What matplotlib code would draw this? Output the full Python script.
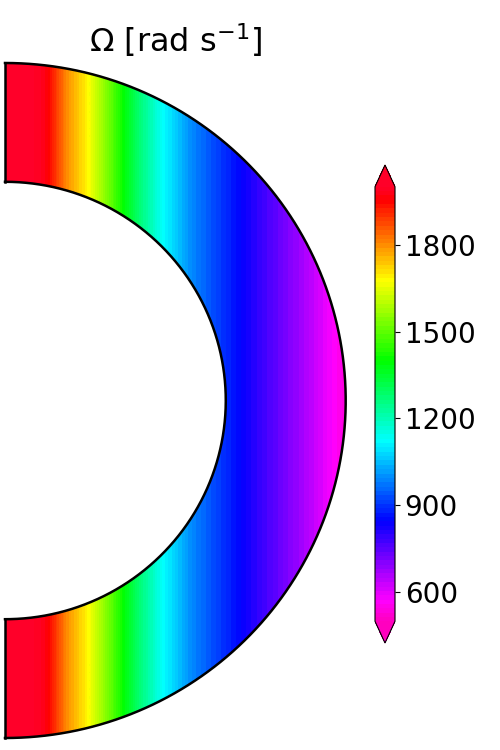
import numpy as np
import matplotlib
matplotlib.use('Agg')
import matplotlib.pyplot as plt

# perfil de Omega em funcao do raio cilindrico s = r sin(theta)
s_perfil = [0.0, 0.10, 0.126, 0.18, 0.244, 0.30, 0.346, 0.40, 0.464, 0.55, 0.69, 0.80, 0.90, 0.963, 1.0]
omega_perfil = [2050, 1990, 1955, 1800, 1677, 1530, 1400, 1260, 1121, 990, 845, 740, 640, 569, 535]

# geometria da casca
r_in = 0.648
r_out = 1.0

# niveis e ticks da barra de cores
niveis = np.linspace(500, 2000, 101)
ticks_cb = [600, 900, 1200, 1500, 1800]

# grade em (r, theta)
r = np.linspace(r_in, r_out, 200)
th = np.linspace(0, np.pi, 400)
R, TH = np.meshgrid(r, th)
X = R * np.sin(TH)
Y = R * np.cos(TH)
omega = np.interp(X, s_perfil, omega_perfil)

fig = plt.figure(figsize=(5, 7.5), dpi=100)
ax = fig.add_axes([5/500, 12/750, 340.7/500, 675/750])

cf = ax.contourf(X, Y, omega, levels=niveis, cmap='gist_rainbow_r', extend='both')

# contornos da casca
t = np.linspace(0, np.pi, 400)
ax.plot(r_out*np.sin(t), r_out*np.cos(t), color='black', lw=1.8, clip_on=False)
ax.plot(r_in*np.sin(t), r_in*np.cos(t), color='black', lw=1.8, clip_on=False)
ax.plot([0, 0], [r_in, r_out], color='black', lw=1.8, clip_on=False)
ax.plot([0, 0], [-r_out, -r_in], color='black', lw=1.8, clip_on=False)

ax.set_xlim(0, 1)
ax.set_ylim(-1, 1)
ax.axis('off')
ax.set_title(r'$\Omega$ [rad s$^{-1}$]', fontsize=23, pad=8)

cax = fig.add_axes([375/500, 107/750, 20/500, 478/750])
cb = fig.colorbar(cf, cax=cax, ticks=ticks_cb)
cb.ax.tick_params(labelsize=20)

plt.savefig('out.png', dpi=100)
